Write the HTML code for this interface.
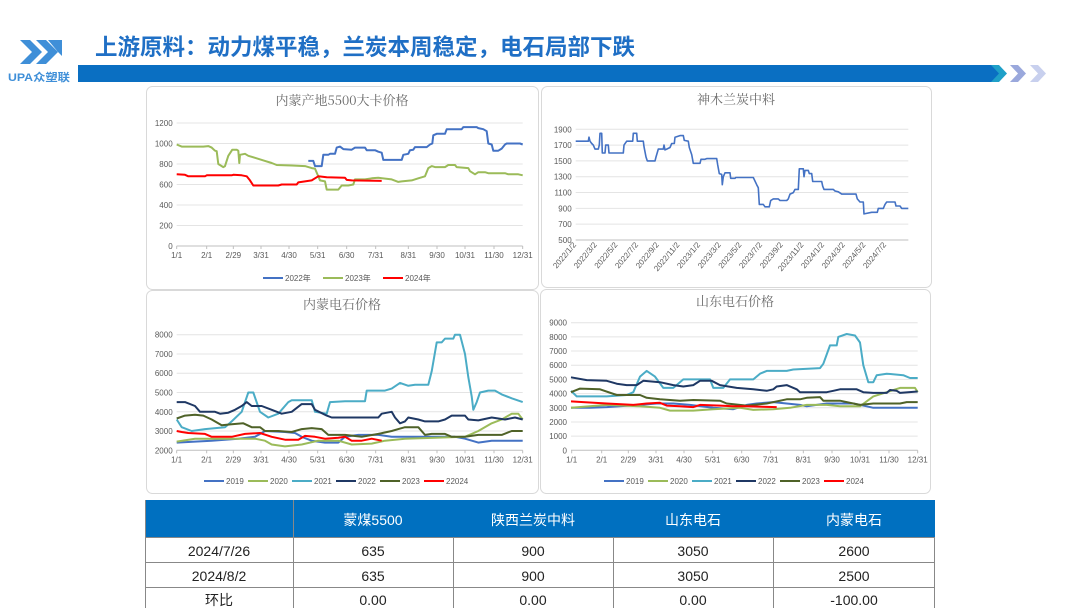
<!DOCTYPE html>
<html><head><meta charset="utf-8"><style>
html,body{margin:0;padding:0;background:#fff;width:1080px;height:608px;overflow:hidden}
svg{display:block}
text{font-family:"Liberation Sans","Noto Sans CJK SC",sans-serif}
.t{fill:#595959;font-size:8px}
.ct{fill:#6b6b6b;font-size:13px;font-family:"Noto Serif CJK SC","Noto Sans CJK SC",serif}
</style></head><body>
<svg id="s" width="1080" height="608" viewBox="0 0 1080 608" xmlns="http://www.w3.org/2000/svg">
<!-- logo -->
<g fill="#3f8fd8">
<polygon points="20,40 30,40 42,52 30,64 20,64 32,52"/>
<polygon points="36,40 46,40 58,52 46,64 36,64 48,52"/>
<polygon points="48,40 62,40 62,56 58,52"/>
</g>
<text x="8" y="81" font-size="11" font-weight="bold" fill="#3f8fd8" textLength="62" lengthAdjust="spacingAndGlyphs">UPA众塑联</text>
<text x="95" y="55" font-size="22.5" font-weight="bold" fill="#1f6fc5" font-family="Noto Sans CJK SC,sans-serif">上游原料：动力煤平稳，兰炭本周稳定，电石局部下跌</text>
<polygon points="78,65 995,65 1000,73.5 995,82 78,82" fill="#0a6fc2"/>
<polygon points="991,65 999,65 1007,73.5 999,82 991,82 999,73.5" fill="#1fa0c8"/>
<polygon points="1010,65 1018,65 1026,73.5 1018,82 1010,82 1018,73.5" fill="#9aa8dc"/>
<polygon points="1030,65 1038,65 1046,73.5 1038,82 1030,82 1038,73.5" fill="#c8d0ee"/>
<!-- panels -->
<g fill="#fff" stroke="#d9d9d9" stroke-width="1">
<rect x="146.5" y="86.5" width="392" height="203" rx="6"/>
<rect x="541.5" y="86.5" width="390" height="201" rx="6"/>
<rect x="146.5" y="290.5" width="392" height="203" rx="6"/>
<rect x="540.5" y="289.5" width="390" height="204" rx="6"/>
</g>
<text class="ct" x="342" y="105" text-anchor="middle">内蒙产地5500大卡价格</text>
<text class="ct" x="736" y="104" text-anchor="middle">神木兰炭中料</text>
<text class="ct" x="342" y="309" text-anchor="middle">内蒙电石价格</text>
<text class="ct" x="735" y="306" text-anchor="middle">山东电石价格</text>
<g id="g"></g>
<!-- table -->
<rect x="145" y="500" width="790" height="37" fill="#0070c0"/>
<rect x="145" y="537" width="790" height="71" fill="#fff"/>
<g stroke="#888" stroke-width="1">
<line x1="145.5" y1="500" x2="145.5" y2="608"/>
<line x1="293.5" y1="500" x2="293.5" y2="608"/>
<line x1="453.5" y1="537" x2="453.5" y2="608"/>
<line x1="613.5" y1="537" x2="613.5" y2="608"/>
<line x1="773.5" y1="537" x2="773.5" y2="608"/>
<line x1="934.5" y1="537" x2="934.5" y2="608"/>
<line x1="145" y1="537.5" x2="935" y2="537.5"/>
<line x1="145" y1="562.5" x2="935" y2="562.5"/>
<line x1="145" y1="587.5" x2="935" y2="587.5"/>
</g>
<g font-size="14" text-anchor="middle" fill="#fff">
<text x="373" y="525">蒙煤5500</text><text x="533" y="525">陕西兰炭中料</text><text x="693" y="525">山东电石</text><text x="854" y="525">内蒙电石</text>
</g>
<g font-size="14" text-anchor="middle" fill="#222">
<text x="219" y="556">2024/7/26</text><text x="373" y="556">635</text><text x="533" y="556">900</text><text x="693" y="556">3050</text><text x="854" y="556">2600</text>
<text x="219" y="581">2024/8/2</text><text x="373" y="581">635</text><text x="533" y="581">900</text><text x="693" y="581">3050</text><text x="854" y="581">2500</text>
<text x="219" y="605">环比</text><text x="373" y="605">0.00</text><text x="533" y="605">0.00</text><text x="693" y="605">0.00</text><text x="854" y="605">-100.00</text>
</g>
</svg>
<script>
var NS="http://www.w3.org/2000/svg",G=document.getElementById("g");
function el(n,a,t){var e=document.createElementNS(NS,n);for(var k in a)e.setAttribute(k,a[k]);if(t!=null)e.textContent=t;G.appendChild(e);return e;}
var months=["1/1","2/1","2/29","3/31","4/30","5/31","6/30","7/31","8/31","9/30","10/31","11/30","12/31"];
var mz=[95,185,265,348,432,518,605,692,790,876,960,1047,1133];
function chart(c){
 var X=function(z){return c.ox+z/3;},Y=function(v){return c.y0-(v-c.vmin)/(c.vmax-c.vmin)*(c.y0-c.y1);};
 for(var v=c.vmin;v<=c.vmax;v+=c.step){var y=Y(v);
  el("line",{x1:X(c.xa),x2:X(c.xb),y1:y,y2:y,stroke:v==c.vmin?"#bfbfbf":"#e4e4e4","stroke-width":1});
  el("text",{x:X(c.xa)-4,y:y+3,"text-anchor":"end",class:"t"},v);}
 if(c.months){for(var i=0;i<13;i++){el("text",{x:X(mz[i]),y:c.y0+12,"text-anchor":"middle",class:"t"},months[i]);
   el("line",{x1:X(mz[i]),x2:X(mz[i]),y1:c.y0,y2:c.y0+3,stroke:"#bfbfbf"});}}
 c.series.forEach(function(s){var p=s.d.map(function(q){return X(q[0]).toFixed(1)+","+Y(q[1]).toFixed(1)}).join(" ");
  el("polyline",{points:p,fill:"none",stroke:s.c,"stroke-width":s.w||2,"stroke-linejoin":"round"});});
 if(c.leg){var lx=c.leg.x;c.series.forEach(function(s,i){var x=lx+c.leg.dx[i];
  el("line",{x1:x,x2:x+20,y1:c.leg.y,y2:c.leg.y,stroke:s.c,"stroke-width":2});
  el("text",{x:x+22,y:c.leg.y+3,class:"t"},s.n);});}
}
var B="#4472c4",GR="#9bbb59",CY="#4bacc6",NV="#1f3864",OL="#4f6228",RD="#ff0000";
chart({ox:145,y0:246,y1:123,vmin:0,vmax:1200,step:200,xa:95,xb:1133,months:1,
 leg:{x:263,y:278,dx:[0,60,120]},
 series:[
 {n:"2022年",c:B,d:[[490,830],[505,830],[510,780],[530,780],[535,890],[550,890],[555,900],[570,900],[575,960],[585,970],[595,945],[620,940],[630,960],[660,960],[665,935],[690,935],[700,920],[710,910],[715,840],[770,840],[775,890],[790,900],[795,935],[805,940],[810,965],[845,965],[855,990],[862,1000],[865,1080],[875,1095],[900,1095],[905,1140],[950,1140],[955,1160],[995,1160],[1000,1150],[1015,1140],[1025,1120],[1030,1000],[1040,990],[1045,930],[1060,930],[1070,950],[1080,990],[1085,1000],[1125,1000],[1133,990]]},
 {n:"2023年",c:GR,d:[[95,990],[110,970],[175,970],[190,975],[200,960],[210,930],[215,925],[220,800],[235,770],[240,780],[250,880],[262,940],[275,940],[280,930],[283,810],[285,890],[300,900],[310,880],[330,860],[360,830],[380,810],[395,790],[440,785],[480,780],[500,760],[510,755],[525,640],[540,630],[545,550],[580,550],[590,590],[610,590],[625,600],[630,650],[660,650],[680,660],[700,665],[740,650],[760,625],[770,630],[800,640],[820,660],[840,680],[850,760],[860,780],[870,770],[900,770],[910,790],[930,790],[935,770],[970,760],[975,730],[990,700],[1000,720],[1020,720],[1030,710],[1080,710],[1090,700],[1120,700],[1133,690]]},
 {n:"2024年",c:RD,d:[[95,700],[120,695],[130,680],[180,680],[185,690],[260,690],[265,695],[290,690],[305,680],[315,640],[325,590],[400,590],[410,600],[455,600],[460,620],[480,630],[500,640],[510,660],[520,680],[545,670],[600,665],[605,645],[620,640],[710,635]]}]});
chart({ox:540,y0:240,y1:129.3,vmin:500,vmax:1900,step:200,xa:107,xb:1105,
 series:[{c:B,d:[[107,1750],[145,1750],[147,1800],[150,1750],[155,1720],[160,1700],[165,1650],[175,1650],[178,1700],[180,1850],[185,1850],[187,1600],[195,1600],[197,1700],[205,1700],[207,1600],[250,1600],[252,1700],[260,1750],[278,1750],[280,1850],[290,1850],[292,1750],[310,1750],[312,1680],[318,1550],[322,1500],[345,1500],[348,1550],[355,1650],[370,1650],[372,1700],[375,1640],[380,1650],[390,1670],[395,1720],[403,1720],[405,1800],[420,1820],[430,1820],[433,1760],[445,1750],[448,1670],[455,1580],[460,1470],[480,1470],[483,1520],[495,1520],[500,1530],[530,1530],[533,1450],[538,1340],[545,1330],[547,1200],[550,1300],[555,1350],[570,1350],[572,1280],[585,1280],[587,1290],[640,1290],[650,1200],[655,1160],[658,950],[670,950],[675,920],[688,920],[692,1000],[700,1020],[715,1020],[720,1000],[740,1000],[745,1020],[750,1080],[760,1100],[765,1140],[775,1140],[778,1400],[790,1400],[792,1300],[795,1380],[805,1380],[808,1340],[815,1340],[818,1240],[845,1240],[848,1180],[852,1140],[880,1140],[885,1120],[895,1110],[905,1080],[948,1080],[952,1020],[960,980],[970,980],[972,830],[995,850],[1012,850],[1015,900],[1030,900],[1035,950],[1040,980],[1065,980],[1068,930],[1080,930],[1085,900],[1105,900]],w:1.6}]});
var rl=["2022/1/2","2022/3/2","2022/5/2","2022/7/2","2022/9/2","2022/11/2","2023/1/2","2023/3/2","2023/5/2","2023/7/2","2023/9/2","2023/11/2","2024/1/2","2024/3/2","2024/5/2","2024/7/2"];
for(var i=0;i<16;i++){var x=540+(110+i*62)/3;el("text",{x:x,y:245,"text-anchor":"end",class:"t",transform:"rotate(-50 "+x+" 245)","font-size":"7"},rl[i]);}
chart({ox:145,y0:450.3,y1:334.7,vmin:2000,vmax:8000,step:1000,xa:95,xb:1133,months:1,
 leg:{x:204,y:481,dx:[0,44,88,132,176,220]},
 series:[
 {n:"2019",c:B,d:[[95,2400],[150,2450],[200,2500],[280,2600],[330,2700],[350,2900],[360,3000],[420,2950],[450,2900],[470,2700],[500,2500],[540,2400],[580,2400],[600,2700],[640,2800],[700,2800],[740,2700],[780,2700],[850,2700],[930,2700],[960,2600],[1000,2400],[1040,2500],[1133,2500]]},
 {n:"2020",c:GR,d:[[95,2450],[150,2600],[250,2600],[330,2600],[360,2500],[380,2300],[420,2200],[470,2300],[520,2500],[580,2500],[620,2300],[680,2350],[720,2500],[780,2600],[870,2650],[960,2700],[1000,3000],[1040,3400],[1070,3600],[1100,3900],[1120,3900],[1133,3600]]},
 {n:"2021",c:CY,d:[[95,3600],[110,3200],[140,3000],[180,3100],[240,3200],[260,3500],[290,4000],[310,5000],[325,5000],[345,4000],[370,3700],[400,3900],[430,4500],[440,4600],[480,4600],[500,4600],[510,4000],[545,3900],[555,4500],[600,4550],[660,4550],[665,5100],[720,5100],[740,5200],[765,5500],[790,5350],[810,5400],[850,5400],[860,6100],[875,7600],[890,7600],[900,7800],[925,7800],[930,8000],[945,8000],[960,7000],[970,5800],[980,4800],[985,4100],[995,4500],[1005,5000],[1030,5100],[1050,5100],[1070,4900],[1100,4700],[1133,4500]]},
 {n:"2022",c:NV,d:[[95,4500],[120,4500],[150,4300],[165,4000],[210,4000],[225,3900],[250,3950],[270,4100],[290,4300],[305,4500],[320,4300],[350,4300],[380,4100],[410,3900],[440,4000],[470,4400],[500,4400],[510,4100],[545,3800],[560,3700],[700,3700],[710,3900],[740,4000],[750,3700],[765,3400],[780,3500],[790,3700],[820,3600],[840,3500],[880,3500],[900,3600],[920,3800],[960,3800],[970,3600],[1000,3550],[1040,3700],[1080,3600],[1110,3700],[1133,3600]]},
 {n:"2023",c:OL,d:[[95,3650],[120,3800],[150,3850],[175,3800],[200,3600],[230,3300],[260,3350],[295,3400],[320,3200],[345,3200],[360,3000],[400,3000],[440,2950],[470,3100],[500,3150],[530,3100],[550,2800],[600,2800],[650,2700],[700,2850],[740,3000],[760,3100],[780,3200],[820,3200],[840,2800],[860,2850],[900,2850],[920,2700],[960,2700],[1000,2800],[1070,2800],[1100,3000],[1133,3000]]},
 {n:"22024",c:RD,d:[[95,3000],[110,2950],[130,2900],[180,2850],[200,2700],[260,2700],[300,2850],[345,2900],[380,2700],[420,2550],[460,2550],[480,2750],[510,2700],[540,2600],[580,2650],[600,2700],[620,2500],[650,2500],[680,2600],[710,2500]]}]});
chart({ox:540,y0:450.3,y1:322.7,vmin:0,vmax:9000,step:1000,xa:93,xb:1133,months:1,
 leg:{x:604,y:481,dx:[0,44,88,132,176,220]},
 series:[
 {n:"2019",c:B,d:[[93,3000],[150,3000],[200,3050],[300,3200],[350,3300],[400,3300],[450,3200],[520,3000],[580,2900],[620,3200],[650,3300],[700,3400],[780,3200],[800,3100],[860,3300],[940,3300],[980,3100],[1000,3000],[1050,3000],[1133,3000]]},
 {n:"2020",c:GR,d:[[93,3000],[200,3200],[300,3100],[360,3000],[390,2800],[460,2800],[520,2900],[600,3000],[640,2850],[700,2900],[750,3000],[800,3200],[860,3200],[900,3100],[960,3100],[1000,3800],[1040,4100],[1080,4400],[1125,4400],[1133,4100]]},
 {n:"2021",c:CY,d:[[93,4200],[110,3800],[200,3800],[260,3900],[280,4100],[300,5200],[320,5600],[345,5200],[370,4400],[400,4400],[430,5000],[510,5000],[520,4400],[550,4400],[570,5000],[640,5000],[660,5400],[680,5600],[740,5600],[760,5700],[840,5800],[850,6100],[870,7400],[890,7400],[895,8000],[920,8200],[945,8100],[960,7600],[970,6000],[985,4800],[1000,4800],[1010,5300],[1040,5400],[1090,5300],[1110,5100],[1133,5100]]},
 {n:"2022",c:NV,d:[[93,5150],[140,4950],[200,4900],[230,4700],[260,4600],[290,4600],[310,4900],[360,4800],[400,4600],[430,4500],[460,4600],[480,4900],[515,4900],[540,4600],[590,4400],[640,4300],[680,4200],[700,4300],[710,4500],[740,4600],[770,4300],[780,4100],[860,4100],[880,4200],[900,4300],[950,4300],[970,4100],[1000,4050],[1040,4050],[1050,4250],[1070,4200],[1080,4050],[1133,4150]]},
 {n:"2023",c:OL,d:[[93,4100],[120,4350],[180,4300],[230,3900],[300,3900],[320,3700],[360,3600],[420,3500],[460,3550],[540,3500],[560,3300],[620,3150],[680,3300],[740,3600],[780,3600],[800,3700],[840,3750],[850,3500],[900,3500],[940,3300],[960,3200],[1000,3300],[1080,3300],[1100,3400],[1133,3400]]},
 {n:"2024",c:RD,d:[[93,3450],[130,3400],[200,3300],[280,3200],[320,3300],[360,3350],[380,3150],[420,3100],[460,3050],[480,3200],[540,3150],[580,3100],[620,3100],[710,3050]]}]});
</script>
</body></html>
